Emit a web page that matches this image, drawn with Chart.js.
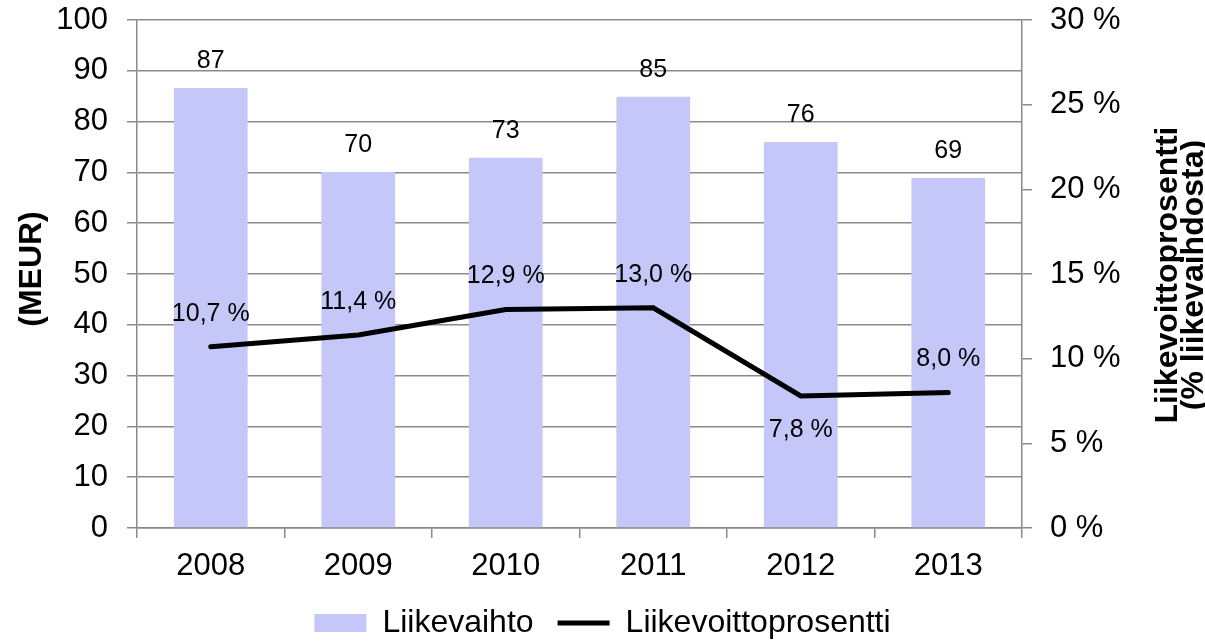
<!DOCTYPE html>
<html>
<head>
<meta charset="utf-8">
<script src="https://cdn.jsdelivr.net/npm/chart.js@4.4.1/dist/chart.umd.min.js"></script>
<style>
    html, body { margin: 0; padding: 0; background: #fff; }
    #wrap { width: 1205px; height: 643px; position: relative; }
</style>
</head>
<body>
<div id="wrap"><canvas id="chart"></canvas></div>
<script>
// Data
const years = ['2008', '2009', '2010', '2011', '2012', '2013'];
const liikevaihto = [86.6, 70.1, 72.9, 84.9, 76.0, 68.9];          // MEUR
const liikevoittoprosentti = [10.7, 11.4, 12.9, 13.0, 7.8, 8.0];    // %
const lineLabelSide = ['top', 'top', 'top', 'top', 'bottom', 'top'];

const GRID = '#8a8a8a';
const FONT = "'Liberation Sans', Arial, sans-serif";

Chart.defaults.font.family = FONT;
Chart.defaults.color = '#000';

const fmtPct = v => v.toFixed(1).replace('.', ',') + ' %';

// Arvojen tekstit pylväiden ja viivan päälle
const valueLabels = {
    id: 'valueLabels',
    afterDatasetsDraw(chart) {
        const ctx = chart.ctx;
        ctx.save();
        ctx.fillStyle = '#000';
        ctx.font = `25px ${FONT}`;
        ctx.textAlign = 'center';
        ctx.textBaseline = 'middle';

        chart.getDatasetMeta(0).data.forEach((bar, i) => {
            ctx.fillText(String(Math.round(liikevaihto[i])), bar.x, bar.y - 27);
        });
        chart.getDatasetMeta(1).data.forEach((pt, i) => {
            const dy = lineLabelSide[i] === 'bottom' ? 34 : -33;
            ctx.fillText(fmtPct(liikevoittoprosentti[i]), pt.x, pt.y + dy);
        });
        ctx.restore();
    }
};

// Akselien otsikot (molemmat luetaan alhaalta ylös)
const axisTitles = {
    id: 'axisTitles',
    afterDraw(chart) {
        const ctx = chart.ctx;
        const area = chart.chartArea;
        const cy = (area.top + area.bottom) / 2;
        ctx.save();
        ctx.fillStyle = '#000';
        ctx.font = `bold 32px ${FONT}`;
        ctx.textAlign = 'center';
        ctx.textBaseline = 'middle';

        ctx.save();
        ctx.translate(32, cy - 5);
        ctx.rotate(-Math.PI / 2);
        ctx.fillText('(MEUR)', 0, 0);
        ctx.restore();

        ctx.save();
        ctx.translate(1168, cy + 1);
        ctx.rotate(-Math.PI / 2);
        ctx.fillText('Liikevoittoprosentti', 0, 0);
        ctx.fillText('(% liikevaihdosta)', 0, 26);
        ctx.restore();

        ctx.restore();
    }
};

// Pystyakseleiden leveys kiinteäksi, ei ylimääräistä reunusta
const fixY = w => s => {
    s.width = w;
    s.paddingTop = 0;
    s.paddingBottom = 0;
};

new Chart(document.getElementById('chart'), {
    data: {
        labels: years,
        datasets: [{
            type: 'bar',
            label: 'Liikevaihto',
            data: liikevaihto,
            yAxisID: 'y',
            backgroundColor: '#c4c7f8',
            borderWidth: 0,
            categoryPercentage: 1,
            barPercentage: 0.5,
            pointStyle: 'rect',
            order: 1
        }, {
            type: 'line',
            label: 'Liikevoittoprosentti',
            data: liikevoittoprosentti,
            yAxisID: 'y1',
            borderColor: '#000',
            backgroundColor: '#000',
            borderWidth: 5,
            borderCapStyle: 'round',
            pointRadius: 0,
            pointStyle: 'line',
            tension: 0,
            order: 0
        }]
    },
    options: {
        responsive: true,
        maintainAspectRatio: false,
        animation: false,
        layout: { padding: { top: 20, left: 0, right: 0, bottom: -6 } },
        plugins: {
            tooltip: { enabled: false },
            legend: {
                position: 'bottom',
                labels: {
                    usePointStyle: true,
                    pointStyleWidth: 52,
                    boxHeight: 18,
                    padding: 24,
                    color: '#000',
                    font: { size: 32, lineHeight: 1.0 },
                    sort: (a, b) => a.datasetIndex - b.datasetIndex
                }
            }
        },
        scales: {
            x: {
                offset: true,
                grid: {
                    offset: true,
                    drawOnChartArea: false,
                    drawTicks: true,
                    tickLength: 10,
                    color: GRID,
                    lineWidth: 1.5
                },
                border: { color: GRID, width: 1.5 },
                ticks: { font: { size: 31 }, padding: 10, color: '#000' },
                afterFit: s => { s.height = 55; }
            },
            y: {
                position: 'left',
                min: 0,
                max: 100,
                ticks: { stepSize: 10, font: { size: 31 }, padding: 19, color: '#000' },
                grid: { color: GRID, lineWidth: 1.5, tickLength: 10 },
                border: { color: GRID, width: 1.5 },
                afterFit: fixY(137)
            },
            y1: {
                position: 'right',
                min: 0,
                max: 30,
                ticks: {
                    stepSize: 5,
                    font: { size: 31 },
                    padding: 18,
                    color: '#000',
                    callback: v => v + ' %'
                },
                grid: { drawOnChartArea: false, color: GRID, lineWidth: 1.5, tickLength: 10 },
                border: { color: GRID, width: 1.5 },
                afterFit: fixY(183)
            }
        }
    },
    plugins: [valueLabels, axisTitles]
});
</script>
</body>
</html>
